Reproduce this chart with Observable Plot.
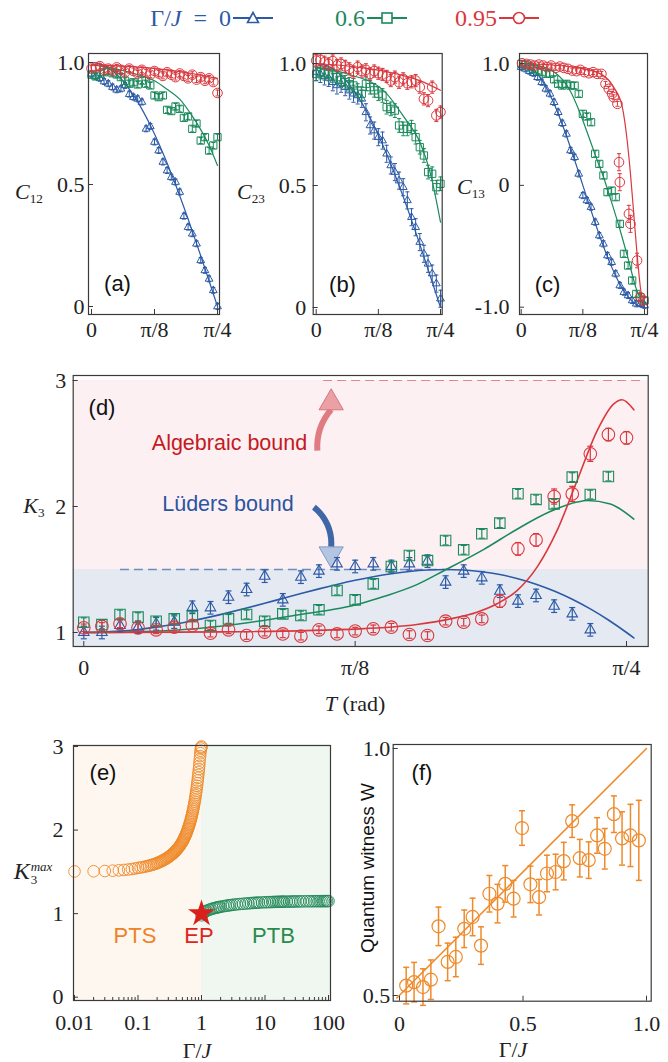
<!DOCTYPE html>
<html><head><meta charset="utf-8">
<script src="https://cdn.jsdelivr.net/npm/d3@7"></script>
<script src="https://cdn.jsdelivr.net/npm/@observablehq/plot@0.6"></script>
<style>
html,body{margin:0;padding:0;background:#fff}
#root{position:relative;width:668px;height:1062px;overflow:hidden;background:#fff;font-family:"Liberation Serif","DejaVu Serif",serif;color:#222}
.lbl{position:absolute;white-space:nowrap;line-height:1;transform:translate(-50%,-50%)}
.sans{font-family:"Liberation Sans",Arial,sans-serif}
sub{font-size:0.6em;vertical-align:-0.3em;line-height:0}
</style></head><body><div id="root"></div>
<script>
// ================= DATA =================
const seriesLabels = ["Γ/J = 0", "0.6", "0.95"];
const seriesColors = ["#2c5aa6", "#1b8a5c", "#d9383e"];
const tTicks = [0, Math.PI / 8, Math.PI / 4];
const tTickLabels = ["0", "π/8", "π/4"];
// sample times T (rad) of the measurements, steps of π/120
const tGrid = [0,0.0262,0.0524,0.0785,0.1047,0.1309,0.1571,0.1833,0.2094,0.2356,0.2618,0.2880,0.3142,0.3403,0.3665,0.3927,0.4189,0.4451,0.4712,0.4974,0.5236,0.5498,0.5760,0.6021,0.6283,0.6545,0.6807,0.7069,0.7330,0.7592,0.7854];
// theory for Γ/J = 0
const theoryC12 = [1,0.9986,0.9945,0.9877,0.9781,0.9659,0.9511,0.9336,0.9135,0.8910,0.8660,0.8387,0.8090,0.7771,0.7431,0.7071,0.6691,0.6293,0.5878,0.5446,0.5,0.4540,0.4067,0.3584,0.3090,0.2588,0.2079,0.1564,0.1045,0.0523,0];
const theoryC13 = [1,0.9945,0.9781,0.9511,0.9135,0.8660,0.8090,0.7431,0.6691,0.5878,0.5,0.4067,0.3090,0.2079,0.1045,0,-0.1045,-0.2079,-0.3090,-0.4067,-0.5,-0.5878,-0.6691,-0.7431,-0.8090,-0.8660,-0.9135,-0.9511,-0.9781,-0.9945,-1];

// panel (a) C12
const aBlue  = [0.954,0.943,0.935,0.922,0.913,0.899,0.888,0.892,0.906,0.87,0.858,0.851,0.838,0.728,0.738,0.674,0.639,0.592,0.557,0.53,0.51,0.469,0.37,0.325,0.298,0.257,0.189,0.148,0.113,0.066,0.0];
const aGreen = [0.95,0.943,0.954,0.96,0.965,0.956,0.951,0.94,0.925,0.913,0.919,0.91,0.926,0.913,0.906,0.865,0.858,0.865,0.806,0.801,0.82,0.81,0.773,0.779,0.728,0.75,0.68,0.694,0.639,0.66,0.694];
const aRed   = [0.975,0.98,0.985,0.97,0.975,0.965,0.98,0.97,0.96,0.975,0.965,0.955,0.97,0.96,0.95,0.965,0.955,0.945,0.96,0.95,0.94,0.955,0.945,0.935,0.95,0.93,0.94,0.925,0.935,0.92,0.875];
const aGreenLineT = [0,0.1309,0.2618,0.3927,0.4712,0.5498,0.6283,0.6807,0.7330,0.7854];
const aGreenLine  = [0.99,0.977,0.955,0.925,0.89,0.85,0.78,0.725,0.66,0.578];
const aRedLineT = [0,0.2,0.4,0.6,0.7854];
const aRedLine  = [0.99,0.985,0.975,0.958,0.935];

// panel (b) C23
const bBlue  = [0.965,0.957,0.947,0.941,0.923,0.91,0.917,0.903,0.889,0.876,0.869,0.855,0.80,0.746,0.725,0.698,0.684,0.63,0.582,0.555,0.52,0.493,0.439,0.37,0.329,0.268,0.22,0.179,0.139,0.098,0.036];
const bGreen = [0.957,0.965,0.96,0.957,0.951,0.944,0.933,0.923,0.915,0.91,0.889,0.876,0.917,0.903,0.89,0.876,0.869,0.821,0.814,0.807,0.746,0.732,0.732,0.739,0.698,0.657,0.623,0.555,0.548,0.493,0.507];
const bRed   = [1.012,1.015,1.005,0.998,1.01,0.992,0.998,0.988,0.978,0.965,0.985,0.969,0.974,0.957,0.969,0.96,0.955,0.947,0.93,0.944,0.923,0.937,0.919,0.925,0.93,0.903,0.855,0.848,0.903,0.787,0.801];
const bGreenLineT = [0,0.2094,0.4267,0.5550,0.66,0.722,0.7854];
const bGreenLine  = [0.985,0.955,0.889,0.78,0.67,0.549,0.35];
const bRedLineT = [0,0.2618,0.5236,0.6545,0.7854];
const bRedLine  = [1.0,0.985,0.955,0.93,0.89];

// panel (c) C13
const cBlue  = [0.97,0.956,0.937,0.92,0.887,0.846,0.792,0.751,0.682,0.6,0.51,0.422,0.286,0.231,0.094,-0.084,-0.124,-0.179,-0.302,-0.412,-0.48,-0.576,-0.631,-0.726,-0.822,-0.877,-0.904,-0.945,-0.972,-0.972,-0.985];
const cGreen = [0.997,0.992,0.975,0.956,0.942,0.929,0.915,0.915,0.87,0.833,0.819,0.833,0.819,0.819,0.751,0.587,0.565,0.518,0.259,0.176,0.081,-0.056,-0.043,-0.097,-0.316,-0.562,-0.658,-0.781,-0.891,-0.918,-0.945];
const cRedT  = [0.005,0.034,0.06,0.084,0.113,0.141,0.165,0.191,0.22,0.246,0.272,0.298,0.325,0.353,0.377,0.403,0.432,0.458,0.484,0.511,0.537,0.558,0.579,0.589,0.613,0.623,0.628,0.686,0.696,0.738,0.759,0.778];
const cRed   = [1.002,0.997,0.991,0.983,0.991,0.983,0.97,0.983,0.964,0.975,0.964,0.956,0.942,0.937,0.948,0.929,0.92,0.929,0.915,0.915,0.833,0.792,0.751,0.723,0.669,0.19,0.026,-0.234,-0.316,-0.617,-0.918,-0.945];
const cRedErr = [0.02,0.02,0.02,0.02,0.02,0.02,0.02,0.02,0.02,0.02,0.02,0.02,0.02,0.02,0.02,0.02,0.02,0.02,0.02,0.02,0.02,0.02,0.02,0.02,0.02,0.07,0.07,0.07,0.07,0.06,0.03,0.03];
const cGreenLineT = [0,0.1047,0.2094,0.2618,0.3142,0.3665,0.4189,0.4712,0.5236,0.5760,0.6283,0.6807,0.7330,0.7854];
const cGreenLine  = [1.0,0.985,0.93,0.87,0.77,0.62,0.44,0.25,0.07,-0.14,-0.36,-0.6,-0.85,-1.0];
const cRedLineT = [0,0.335,0.505,0.589,0.644,0.675,0.696,0.717,0.738,0.759,0.780];
const cRedLine  = [1.0,0.97,0.915,0.806,0.642,0.368,0.094,-0.234,-0.563,-0.836,-1.0];

// panel (d) K3
const dBlue  = [1.00,1.00,1.056,1.042,1.069,1.082,1.20,1.196,1.28,1.341,1.447,1.259,1.439,1.487,1.545,1.524,1.545,1.524,1.545,1.566,1.40,1.487,1.434,1.328,1.249,1.294,1.209,1.148,1.021];
const dGreen = [1.082,1.063,1.143,1.122,1.090,1.108,1.127,1.056,1.108,1.143,1.090,1.148,1.135,1.18,1.333,1.259,1.386,1.524,1.611,1.571,1.730,1.656,1.783,1.868,2.101,2.056,2.021,2.233,2.095,2.238];
const dRed   = [1.037,1.048,1.069,1.037,1.021,1.042,1.056,0.995,1.021,0.976,1.003,0.989,0.971,1.021,0.989,1.011,1.029,1.042,0.984,0.976,1.090,1.082,1.108,1.249,1.664,1.735,2.079,2.10,2.418,2.571,2.545];
const dRedErr = [0.03,0.03,0.03,0.03,0.03,0.03,0.03,0.03,0.03,0.03,0.03,0.03,0.03,0.03,0.03,0.03,0.03,0.03,0.03,0.03,0.03,0.03,0.03,0.05,0.05,0.05,0.06,0.06,0.06,0.05,0.05];
const dBlueLineT = [0,0.0262,0.0524,0.0785,0.1047,0.1309,0.1571,0.1833,0.2094,0.2356,0.2618,0.2880,0.3142,0.3403,0.3665,0.3927,0.4189,0.4451,0.4712,0.4974,0.5236,0.5498,0.5760,0.6021,0.6283,0.6545,0.6807,0.7069,0.7330,0.7592,0.7854,0.796];
const dBlueLine  = [1,1.0027,1.0109,1.0243,1.0427,1.0658,1.0932,1.1241,1.1579,1.1942,1.232,1.2707,1.309,1.3463,1.3817,1.4142,1.4427,1.4665,1.4846,1.4959,1.5,1.4958,1.4825,1.4599,1.427,1.3836,1.3293,1.2639,1.1871,1.0991,1.0,0.957];
const dGreenLineT = [0,0.0785,0.1255,0.2075,0.304,0.40,0.434,0.482,0.521,0.579,0.627,0.675,0.714,0.7285,0.762,0.796];
const dGreenLine  = [1.0,1.005,1.016,1.056,1.135,1.228,1.285,1.38,1.49,1.66,1.82,1.96,2.035,2.048,2.02,1.90];
const dRedLineT = [0,0.2,0.40,0.482,0.5306,0.569,0.598,0.627,0.656,0.685,0.714,0.743,0.767,0.779,0.796];
const dRedLine  = [1.0,1.005,1.029,1.063,1.108,1.161,1.228,1.333,1.519,1.81,2.206,2.603,2.815,2.847,2.767];
const dBoundLevels = [1.5, 3.0];            // Lüders bound, algebraic bound
const dBoundDashT = [[0.053, 0.53], [0.347, 0.806]];
const dArrowShafts = [ // T, K of tail and of the base of the head
  {t1: 0.338, k1: 2.444, t2: 0.358, k2: 2.77},
  {t1: 0.333, k1: 1.995, t2: 0.358, k2: 1.68}
];
const dArrowHeads = [{t: 0.358, k: 2.823, rot: 0}, {t: 0.358, k: 1.624, rot: 180}];

// panel (e) K3max vs Γ/J
const gPTS = [0.01,0.02,0.03,0.04,0.05,0.06,0.07,0.08,0.09,0.10,0.11,0.12,0.13,0.14,0.15,0.16,0.17,0.18,0.19,0.20,0.21,0.22,0.23,0.24,0.25,0.26,0.27,0.28,0.29,0.30,0.31,0.32,0.33,0.34,0.35,0.36,0.37,0.38,0.39,0.40,0.41,0.42,0.43,0.44,0.45,0.46,0.47,0.48,0.49,0.50,0.51,0.52,0.53,0.54,0.55,0.56,0.57,0.58,0.59,0.60,0.61,0.62,0.63,0.64,0.65,0.66,0.67,0.68,0.69,0.70,0.71,0.72,0.73,0.74,0.75,0.76,0.77,0.78,0.79,0.80,0.81,0.82,0.83,0.84,0.85,0.86,0.87,0.88,0.89,0.90,0.91,0.92,0.93,0.94,0.95,0.96,0.97,0.98,0.99,1.00];
const kPTS = [1.505,1.507,1.51,1.514,1.518,1.523,1.528,1.534,1.54,1.547,1.552,1.558,1.563,1.569,1.574,1.58,1.586,1.592,1.598,1.605,1.611,1.618,1.625,1.632,1.639,1.646,1.653,1.66,1.667,1.675,1.683,1.691,1.699,1.707,1.715,1.723,1.731,1.74,1.749,1.758,1.767,1.776,1.786,1.796,1.806,1.816,1.827,1.838,1.849,1.86,1.872,1.884,1.897,1.91,1.923,1.937,1.951,1.965,1.98,1.995,2.01,2.026,2.042,2.058,2.075,2.092,2.11,2.128,2.147,2.166,2.186,2.206,2.227,2.248,2.27,2.293,2.316,2.34,2.365,2.39,2.416,2.443,2.471,2.5,2.53,2.561,2.593,2.626,2.66,2.695,2.731,2.768,2.806,2.845,2.885,2.92,2.95,2.975,2.99,3.0];
const gPTB = [1,1.05,1.1,1.15,1.2,1.3,1.4,1.5,1.6,1.7,1.8,1.9,2,2.2,2.4,2.6,2.8,3,3.3,3.6,4,4.5,5,5.5,6,6.5,7,7.5,8,9,10,11,12,13,14,15,16,17,18,19,20,22,24,26,28,30,33,36,40,45,50,55,60,65,70,75,80,85,90,95,100];
const kPTB = [0.98,1.0,1.015,1.025,1.033,1.045,1.053,1.06,1.066,1.071,1.075,1.079,1.082,1.088,1.093,1.097,1.101,1.104,1.108,1.111,1.115,1.118,1.121,1.124,1.126,1.128,1.13,1.131,1.132,1.134,1.136,1.137,1.138,1.139,1.14,1.141,1.141,1.142,1.142,1.143,1.143,1.144,1.144,1.145,1.145,1.146,1.146,1.147,1.147,1.148,1.148,1.148,1.149,1.149,1.149,1.149,1.149,1.15,1.15,1.15,1.15];
const epPoint = [{g: 1, k: 1}];
const eXTicks = [0.01, 0.1, 1, 10, 100];
const eXTickLabels = ["0.01", "0.1", "1", "10", "100"];
const eXMinor = [0.02,0.03,0.04,0.05,0.06,0.07,0.08,0.09,0.2,0.3,0.4,0.5,0.6,0.7,0.8,0.9,2,3,4,5,6,7,8,9,20,30,40,50,60,70,80,90];

// panel (f) quantum witness
const gW = [0.027,0.059,0.095,0.127,0.158,0.195,0.228,0.262,0.296,0.330,0.364,0.397,0.428,0.462,0.496,0.530,0.565,0.597,0.632,0.665,0.699,0.730,0.766,0.800,0.831,0.868,0.901,0.935,0.969];
const wW = [0.520,0.527,0.517,0.532,0.640,0.568,0.578,0.635,0.659,0.601,0.706,0.686,0.726,0.696,0.839,0.725,0.699,0.747,0.750,0.772,0.853,0.778,0.774,0.824,0.797,0.867,0.818,0.824,0.814];
const eW = [0.037,0.040,0.037,0.040,0.039,0.038,0.040,0.038,0.038,0.038,0.037,0.039,0.037,0.037,0.035,0.037,0.036,0.037,0.036,0.038,0.033,0.038,0.037,0.036,0.041,0.037,0.054,0.063,0.081];
const wTheoryG = [-0.011, 1.0];
const wTheoryW = [0.495, 1.0];

// ================= DRAWING =================
const root = document.getElementById("root");
const W = 668, H = 1062;
const INK = "#3a3a3a";
const C = seriesColors;
const ORANGE = "#ef8a2a";
const capSymbol = {draw(ctx, size) { const w = Math.sqrt(size) / 2; ctx.moveTo(-w, 0); ctx.lineTo(w, 0); }};
const rows = (ts, vs, es = 0) => vs.map((v, i) => ({t: ts[i], v, e: Array.isArray(es) ? es[i] : es}));

function addPlot(cfg) {
  const [fx0, fx1, fy0, fy1] = cfg.frame;
  const svg = Plot.plot({
    width: W, height: H,
    marginLeft: fx0, marginRight: W - fx1, marginTop: fy0, marginBottom: H - fy1,
    x: cfg.x, y: cfg.y,
    style: {background: "transparent", fontFamily: "'Liberation Serif', 'DejaVu Serif', serif", fontSize: "22px", color: "#222", overflow: "visible"},
    marks: cfg.marks
  });
  Object.assign(svg.style, {position: "absolute", left: "0px", top: "0px", maxWidth: "none"});
  root.appendChild(svg);
}

function axes(cfg) {
  const [fx0, fx1, fy0, fy1] = cfg.frame;
  const fw = fx1 - fx0, fh = fy1 - fy0;
  const m = [];
  if (cfg.xMinor) m.push(Plot.ruleX(cfg.xMinor, {x: d => d, insetTop: fh - 3, stroke: INK, strokeWidth: 1}));
  m.push(Plot.ruleX(cfg.xTicks, {x: d => d, insetTop: fh - 5, stroke: INK, strokeWidth: 1}));
  m.push(Plot.ruleY(cfg.yTicks, {y: d => d, insetRight: fw - 5, stroke: INK, strokeWidth: 1}));
  m.push(Plot.axisX({ticks: cfg.xTicks, tickFormat: d => cfg.xLabels[cfg.xTicks.indexOf(d)], tickSize: 0, tickPadding: cfg.xPad, label: null}));
  m.push(Plot.axisY({ticks: cfg.yTicks, tickFormat: d => cfg.yLabels[cfg.yTicks.indexOf(d)], tickSize: 0, tickPadding: cfg.yPad, label: null}));
  m.push(Plot.frame({stroke: INK, strokeWidth: 1.2}));
  return m;
}

function series(data, color, symbol, r, capR, sw = 1, ew = 1) {
  return [
    Plot.ruleX(data, {x: "t", y1: d => d.v - d.e, y2: d => d.v + d.e, stroke: color, strokeWidth: ew}),
    Plot.dot(data, {x: "t", y: d => d.v + d.e, symbol: capSymbol, r: capR, stroke: color, strokeWidth: ew}),
    Plot.dot(data, {x: "t", y: d => d.v - d.e, symbol: capSymbol, r: capR, stroke: color, strokeWidth: ew}),
    Plot.dot(data, {x: "t", y: "v", symbol, r, stroke: color, strokeWidth: sw, fill: "none"})
  ];
}
const curve = (data, color, w) => Plot.line(data, {x: "t", y: "v", stroke: color, strokeWidth: w, curve: "monotone-x"});

// ---- panel (a)
const FA = [88, 219, 53, 314];
addPlot({frame: FA, x: {domain: [0, Math.PI / 4], range: [91, 217]}, y: {domain: [0, 1], range: [306, 62]}, marks: [
  curve(rows(tGrid, theoryC12), C[0], 1.2),
  curve(rows(aGreenLineT, aGreenLine), C[1], 1.2),
  curve(rows(aRedLineT, aRedLine), C[2], 1.2),
  ...series(rows(tGrid, aBlue, 0.012), C[0], "triangle", 2.9, 2.3),
  ...series(rows(tGrid, aGreen, 0.012), C[1], "square", 4.1, 2.3),
  ...series(rows(tGrid, aRed, 0.012), C[2], "circle", 4.8, 2.3),
  ...axes({frame: FA, xTicks: tTicks, xLabels: tTickLabels, yTicks: [0, 0.5, 1], yLabels: ["0", "0.5", "1.0"], xPad: 7, yPad: 4})
]});

// ---- panel (b)
const FB = [312.7, 441.7, 53, 314];
addPlot({frame: FB, x: {domain: [0, Math.PI / 4], range: [315.7, 440]}, y: {domain: [0, 1], range: [307, 63]}, marks: [
  curve(rows(tGrid, theoryC12), C[0], 1.2),
  curve(rows(bGreenLineT, bGreenLine), C[1], 1.2),
  curve(rows(bRedLineT, bRedLine), C[2], 1.2),
  ...series(rows(tGrid, bBlue, 0.035), C[0], "triangle", 2.9, 2.3),
  ...series(rows(tGrid, bGreen, 0.028), C[1], "square", 4.1, 2.3),
  ...series(rows(tGrid, bRed, 0.025), C[2], "circle", 4.8, 2.3),
  ...axes({frame: FB, xTicks: tTicks, xLabels: tTickLabels, yTicks: [0, 0.5, 1], yLabels: ["0", "0.5", "1.0"], xPad: 7, yPad: 7})
]});

// ---- panel (c)
const FC = [519, 647, 53, 314];
addPlot({frame: FC, x: {domain: [0, Math.PI / 4], range: [520.7, 644]}, y: {domain: [-1, 1], range: [306.7, 63]}, marks: [
  curve(rows(tGrid, theoryC13), C[0], 1.2),
  curve(rows(cGreenLineT, cGreenLine), C[1], 1.2),
  curve(rows(cRedLineT, cRedLine), C[2], 1.2),
  ...series(rows(tGrid, cBlue, 0.025), C[0], "triangle", 2.9, 2.3),
  ...series(rows(tGrid, cGreen, 0.025), C[1], "square", 4.1, 2.3),
  ...series(rows(cRedT, cRed, cRedErr), C[2], "circle", 4.8, 2.3),
  ...axes({frame: FC, xTicks: tTicks, xLabels: tTickLabels, yTicks: [-1, 0, 1], yLabels: ["-1.0", "0", "1.0"], xPad: 7, yPad: 10})
]});

// ---- panel (d)
const FD = [72.7, 647.7, 375, 646];
const dXmin = -0.0153, dXmax = 0.8167, dYmin = 0.889;
addPlot({frame: FD, x: {domain: [0, Math.PI / 4], range: [83.3, 626]}, y: {domain: [1, 3], range: [632, 380]}, marks: [
  Plot.rect([{y1: dBoundLevels[0], y2: dBoundLevels[1]}], {x1: dXmin, x2: dXmax, y1: "y1", y2: "y2", fill: "#fdf0f3"}),
  Plot.rect([{y1: dYmin, y2: dBoundLevels[0]}], {x1: dXmin, x2: dXmax, y1: "y1", y2: "y2", fill: "#e5eaf2"}),
  Plot.ruleY([{k: dBoundLevels[0], t1: dBoundDashT[0][0], t2: dBoundDashT[0][1]}], {y: "k", x1: "t1", x2: "t2", stroke: "#6d8dc0", strokeWidth: 1.5, strokeDasharray: "9,5"}),
  Plot.ruleY([{k: dBoundLevels[1], t1: dBoundDashT[1][0], t2: dBoundDashT[1][1]}], {y: "k", x1: "t1", x2: "t2", stroke: "#e3858c", strokeWidth: 1.2, strokeDasharray: "9,5"}),
  Plot.arrow([dArrowShafts[0]], {x1: "t1", y1: "k1", x2: "t2", y2: "k2", bend: 22, stroke: "#e07b82", strokeWidth: 6, headLength: 0, strokeLinecap: "butt"}),
  Plot.arrow([dArrowShafts[1]], {x1: "t1", y1: "k1", x2: "t2", y2: "k2", bend: 28, stroke: "#3f67a8", strokeWidth: 6, headLength: 0, strokeLinecap: "butt"}),
  Plot.dot([dArrowHeads[0]], {x: "t", y: "k", symbol: "triangle", r: 9, rotate: "rot", fill: "#eaa0a5", stroke: "#d8747b", strokeWidth: 1}),
  Plot.dot([dArrowHeads[1]], {x: "t", y: "k", symbol: "triangle", r: 9, rotate: "rot", fill: "#b3c5e0", stroke: "#7e9acb", strokeWidth: 1}),
  curve(rows(dBlueLineT, dBlueLine), C[0], 1.6),
  curve(rows(dGreenLineT, dGreenLine), C[1], 1.6),
  curve(rows(dRedLineT, dRedLine), C[2], 1.6),
  ...series(rows(tGrid, dBlue, 0.05), C[0], "triangle", 3.9, 3.4, 1.1, 1.2),
  ...series(rows(tGrid, dGreen, 0.035), C[1], "square", 5.9, 3.4, 1.1, 1.2),
  ...series(rows(tGrid, dRed, dRedErr), C[2], "circle", 6.3, 3.4, 1.1, 1.2),
  ...axes({frame: FD, xTicks: tTicks, xLabels: tTickLabels, yTicks: [1, 2, 3], yLabels: ["1", "2", "3"], xPad: 13, yPad: 7})
]});

// ---- panel (e)
const FE = [73, 330, 745, 1000];
addPlot({frame: FE, x: {type: "log", domain: [0.01, 100], range: [74, 328]}, y: {domain: [0, 3], range: [996.7, 746]}, marks: [
  Plot.rect([{g1: 0.0096, g2: 1}], {x1: "g1", x2: "g2", y1: -0.05, y2: 3.02, fill: "#fdf7f0"}),
  Plot.rect([{g1: 1, g2: 107.5}], {x1: "g1", x2: "g2", y1: -0.05, y2: 3.02, fill: "#f0f7f0"}),
  Plot.dot(gPTS.map((g, i) => ({g, k: kPTS[i]})), {x: "g", y: "k", r: 5.8, stroke: ORANGE, strokeWidth: 0.9, fill: "none"}),
  Plot.dot(gPTB.map((g, i) => ({g, k: kPTB[i]})), {x: "g", y: "k", r: 5.8, stroke: "#23895a", strokeWidth: 0.9, fill: "none"}),
  Plot.dot(epPoint, {x: "g", y: "k", symbol: "star", r: 8.5, fill: "#d9201c", stroke: "none"}),
  ...axes({frame: FE, xTicks: eXTicks, xLabels: eXTickLabels, xMinor: eXMinor, yTicks: [0, 1, 2, 3], yLabels: ["0", "1", "2", "3"], xPad: 14, yPad: 10})
]});

// ---- panel (f)
const FF = [392.7, 650.7, 744, 1000.7];
addPlot({frame: FF, x: {domain: [0, 1], range: [399, 646]}, y: {domain: [0.5, 1], range: [995, 748]}, marks: [
  Plot.line(wTheoryG.map((g, i) => ({t: g, v: wTheoryW[i]})), {x: "t", y: "v", stroke: ORANGE, strokeWidth: 1.5}),
  ...series(rows(gW, wW, eW), ORANGE, "circle", 6.5, 3.4, 1.2, 1.5),
  ...axes({frame: FF, xTicks: [0, 0.5, 1], xLabels: ["0", "0.5", "1.0"], yTicks: [0.5, 1], yLabels: ["0.5", "1.0"], xPad: 14, yPad: 3})
]});

// ================= TEXT =================
function lbl(html, x, y, style = {}, cls = "") {
  const d = document.createElement("div");
  d.className = "lbl " + cls;
  d.innerHTML = html;
  d.style.left = x + "px"; d.style.top = y + "px";
  Object.assign(d.style, style);
  root.appendChild(d);
  return d;
}
// legend
function swatch(kind, color) {
  const sym = kind === "triangle" ? `<path d="M0,-5.5L5.5,4.5H-5.5Z"/>` : kind === "square" ? `<rect x="-5" y="-5" width="10" height="10"/>` : `<circle r="5.5"/>`;
  return `<svg width="40" height="16" viewBox="-20 -8 40 16" style="display:block"><line x1="-20" x2="20" y1="0" y2="0" stroke="${color}" stroke-width="2"/><g fill="#fff" stroke="${color}" stroke-width="1.6">${sym}</g></svg>`;
}
const legendHtml = ["Γ/<i>J</i>&#8194;=&#8194;0", "0.6", "0.95"];
const legendRight = [231, 365, 497];
const legendSym = ["triangle", "square", "circle"];
legendHtml.forEach((h, i) => {
  lbl(h, legendRight[i], 18, {color: C[i], fontSize: "24px", transform: "translate(-100%,-50%)"});
  lbl(swatch(legendSym[i], C[i]), legendRight[i] + 22, 18);
});
// axis titles
lbl("<i>C</i><sub>12</sub>", 29, 192, {fontSize: "22px"});
lbl("<i>C</i><sub>23</sub>", 251, 192, {fontSize: "22px"});
lbl("<i>C</i><sub>13</sub>", 471, 187, {fontSize: "22px"});
lbl("<i>K</i><sub>3</sub>", 34, 506, {fontSize: "22px"});
lbl("<i>T</i> (rad)", 355, 704, {fontSize: "22px"});
lbl("Γ/<i>J</i>", 197, 1051, {fontSize: "22px"});
lbl("Γ/<i>J</i>", 513, 1050, {fontSize: "22px"});
lbl(`<i>K</i><span style="display:inline-block;vertical-align:middle;font-size:13px;line-height:1.05;margin-left:1px;text-align:left"><i style="display:block">max</i><span style="display:block">3</span></span>`, 33, 873, {fontSize: "24px"});
lbl("Quantum witness <i style='font-style:normal'>W</i>", 367, 868, {fontSize: "19px", transform: "translate(-50%,-50%) rotate(-90deg)", color: "#111"}, "sans");
// panel letters
[["(a)", 117.5, 284], ["(b)", 342.5, 285], ["(c)", 547.5, 285], ["(d)", 102, 408], ["(e)", 103, 773], ["(f)", 422, 773]]
  .forEach(([t, x, y]) => lbl(t, x, y, {fontSize: "22px", color: "#111"}, "sans"));
// annotations
lbl("Algebraic bound", 229.5, 444, {fontSize: "21.5px", color: "#c41a22"}, "sans");
lbl("Lüders bound", 228, 505, {fontSize: "21.5px", color: "#2a55a0"}, "sans");
lbl("PTS", 135, 936, {fontSize: "22px", color: "#ef8224"}, "sans");
lbl("EP", 199, 936, {fontSize: "22px", color: "#e0241c"}, "sans");
lbl("PTB", 273.5, 936, {fontSize: "22px", color: "#2a8a4e"}, "sans");
</script></body></html>
